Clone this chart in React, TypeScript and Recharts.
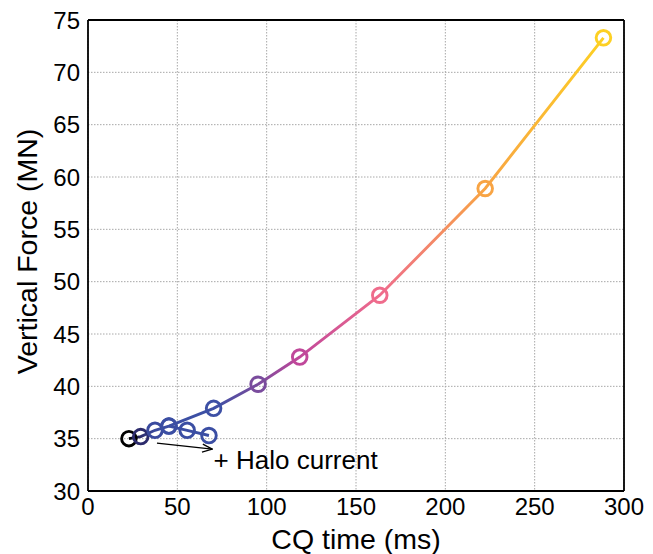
import React from 'react';
import { LineChart, Line, XAxis, YAxis, CartesianGrid } from 'recharts';

// CQ time (ms) and vertical force (MN), main scan
const cqMain = [22.9, 29.5, 37.5, 45.3, 70.3, 95.2, 118.5, 163.3, 222.3, 288.5];
const forceMain = [35.0, 35.2, 35.8, 36.2, 37.9, 40.2, 42.8, 48.7, 58.9, 73.3];
const mainColors = ['#000000', '#2c2b6c', '#3a4a9e', '#3b4ea3', '#3d50a5', '#7a4c9d', '#c0479a', '#ef6c8c', '#f8a444', '#fdd023'];

// "+ Halo current" branch
const cqHalo = [45.3, 55.5, 67.7];
const forceHalo = [36.2, 35.8, 35.3];
const haloColor = '#3b4ea3';

// annotation arrow + text
const arrowCq = [38.6, 69.6];
const arrowForce = [34.58, 34.0];
const annotationText = '+ Halo current';
const annotationCq = [70.3];
const annotationForce = [33.0];

const xTicks = [0, 50, 100, 150, 200, 250, 300];
const yTicks = [30, 35, 40, 45, 50, 55, 60, 65, 70, 75];
const xTitle = 'CQ time (ms)';
const yTitle = 'Vertical Force (MN)';

const mainData = cqMain.map((x, i) => ({ x, y: forceMain[i] }));
const haloData = cqHalo.map((x, i) => ({ x, y: forceHalo[i] }));
const arrowData = arrowCq.map((x, i) => ({ x, y: arrowForce[i] }));
const annData = annotationCq.map((x, i) => ({ x, y: annotationForce[i] }));

const FONT = '"Liberation Sans", Arial, Helvetica, sans-serif';
const xMin = Math.min(...cqMain);
const xMax = Math.max(...cqMain);

const axisLineStyle = { stroke: '#000', strokeWidth: 1.8 };
const tickLineStyle = { stroke: '#000', strokeWidth: 1.5 };

export default function App() {
  return (
    <div style={{ position: 'absolute', left: 0, top: 0, width: 653, height: 554, background: '#fff' }}>
      <LineChart
        width={653}
        height={554}
        margin={{ top: 20, right: 29, bottom: 0, left: 0 }}
        style={{ fontFamily: FONT }}
      >
        <defs>
          <linearGradient id="mainGrad" x1="0" y1="0" x2="1" y2="0">
            {cqMain.map((x, i) => (
              <stop key={i} offset={(x - xMin) / (xMax - xMin)} stopColor={mainColors[i]} />
            ))}
          </linearGradient>
          <marker id="arrowHead" markerWidth="12" markerHeight="10" refX="11" refY="5" orient="auto" markerUnits="userSpaceOnUse">
            <path d="M1,1 L11,5 L1,9" fill="none" stroke="#000" strokeWidth="1.3" />
          </marker>
        </defs>
        <CartesianGrid stroke="#a8a8a8" strokeDasharray="1.5 1.5" strokeWidth={1} />
        <XAxis
          dataKey="x"
          type="number"
          domain={[0, 300]}
          ticks={xTicks}
          allowDataOverflow
          height={63}
          tickSize={0}
          tickMargin={7}
          tickLine={false}
          axisLine={axisLineStyle}
          tick={{ fill: '#000', fontSize: 24, fontFamily: FONT }}
          label={{
            content: (p: any) => {
              const vb = p.viewBox;
              return (
                <text x={vb.x + vb.width / 2} y={vb.y + 58} textAnchor="middle" fontSize={28.5} fontFamily={FONT} fill="#000">
                  {xTitle}
                </text>
              );
            },
          }}
        />
        <XAxis xAxisId="bm" dataKey="x" type="number" domain={[0, 300]} ticks={xTicks} allowDataOverflow orientation="bottom" mirror tick={false} tickSize={6} tickLine={tickLineStyle} axisLine={false} />
        <XAxis xAxisId="top" dataKey="x" type="number" domain={[0, 300]} ticks={xTicks} allowDataOverflow orientation="top" mirror tick={false} tickSize={6} tickLine={tickLineStyle} axisLine={axisLineStyle} />
        <YAxis
          type="number"
          domain={[30, 75]}
          ticks={yTicks}
          allowDataOverflow
          width={88}
          tickSize={0}
          tickMargin={8}
          tickLine={false}
          axisLine={axisLineStyle}
          tick={{ fill: '#000', fontSize: 24, fontFamily: FONT }}
          label={{
            content: (p: any) => {
              const vb = p.viewBox;
              const cx = vb.x + 27;
              const cy = vb.y + vb.height / 2 - 4;
              return (
                <text x={cx} y={cy} textAnchor="middle" dominantBaseline="central" fontSize={28.5} fontFamily={FONT} fill="#000" transform={`rotate(-90 ${cx} ${cy})`}>
                  {yTitle}
                </text>
              );
            },
          }}
        />
        <YAxis yAxisId="lm" type="number" domain={[30, 75]} ticks={yTicks} allowDataOverflow orientation="left" mirror tick={false} tickSize={6} tickLine={tickLineStyle} axisLine={false} />
        <YAxis yAxisId="rm" type="number" domain={[30, 75]} ticks={yTicks} allowDataOverflow orientation="right" mirror tick={false} tickSize={6} tickLine={tickLineStyle} axisLine={axisLineStyle} />

        <Line
          data={arrowData}
          dataKey="y"
          stroke="#000"
          strokeWidth={1.2}
          dot={false}
          activeDot={false}
          markerEnd="url(#arrowHead)"
          isAnimationActive={false}
        />
        <Line
          data={haloData}
          dataKey="y"
          stroke={haloColor}
          strokeWidth={2.9}
          activeDot={false}
          dot={(p: any) => (
            <circle key={`h${p.index}`} cx={p.cx} cy={p.cy} r={7.3} fill="none" stroke={haloColor} strokeWidth={2.9} />
          )}
          isAnimationActive={false}
        />
        <Line
          data={mainData}
          dataKey="y"
          stroke="url(#mainGrad)"
          strokeWidth={2.9}
          activeDot={false}
          dot={(p: any) => (
            <circle key={`m${p.index}`} cx={p.cx} cy={p.cy} r={7.3} fill="none" stroke={mainColors[p.index]} strokeWidth={2.9} />
          )}
          isAnimationActive={false}
        />
        <Line
          data={annData}
          dataKey="y"
          stroke="none"
          activeDot={false}
          dot={(p: any) => (
            <text key={`a${p.index}`} x={p.cx} y={p.cy} dominantBaseline="central" fontSize={26} fontFamily={FONT} fill="#000">
              {annotationText}
            </text>
          )}
          isAnimationActive={false}
        />
      </LineChart>
    </div>
  );
}
